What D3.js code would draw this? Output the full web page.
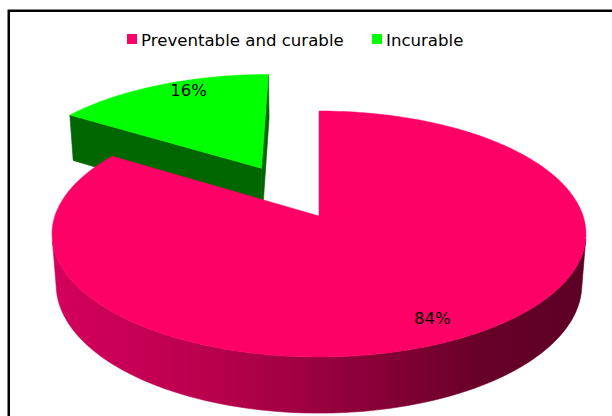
<!DOCTYPE html>
<html>
<head>
<meta charset="utf-8">
<script src="https://cdn.jsdelivr.net/npm/d3@7"></script>
<style>
  html, body { margin: 0; padding: 0; background: #fff; }
  svg { display: block; }
</style>
</head>
<body>
<div id="chart"></div>
<script>
// ---- data ----
const categories = ["Preventable and curable", "Incurable"];
const values = [84, 16];
const valueLabels = ["84%", "16%"];
const topColors = ["#ff0066", "#00ff00"];
const sideColors = ["#a0003f", "#006600"];
const explodeBy = [0, 0.48];

// ---- layout ----
const W = 612, H = 416;
const svg = d3.select("#chart").append("svg").attr("width", W).attr("height", H);
svg.append("rect").attr("width", W).attr("height", H).attr("fill", "#fff");

// perspective camera for the 3D pie (unit radius disc, thickness t)
const cam = { cx: 319, cy: 216, fx: 1611, fy: 1635, D: 6.10, s: 0.449, c: 0.893 };
const thick = 0.213;
function proj(u, v, h) {
  const depth = cam.D - h * cam.s - v * cam.c;
  return [cam.cx + cam.fx * u / depth, cam.cy + cam.fy * (v * cam.s - h * cam.c) / depth];
}

const pie = d3.pie().sort(null).startAngle(0).endAngle(2 * Math.PI);
const arcs = pie(values);

const defs = svg.append("defs");
const grad = defs.append("linearGradient").attr("id", "pinkSide")
  .attr("gradientUnits", "userSpaceOnUse").attr("x1", 54).attr("x2", 588).attr("y1", 0).attr("y2", 0);
[[0, "#d4005c"], [0.3, "#b8004c"], [0.55, "#90003a"], [0.8, "#680029"], [1, "#5c0026"]]
  .forEach(([o, col]) => grad.append("stop").attr("offset", o).attr("stop-color", col));

const line = d3.line();
const N = 240;

function sliceGeom(d, i) {
  const mid = (d.startAngle + d.endAngle) / 2;
  const e = explodeBy[i];
  const ou = e * Math.sin(mid), ov = -e * Math.cos(mid);
  const rim = (a, h) => proj(ou + Math.sin(a), ov - Math.cos(a), h);
  const ctr = (h) => proj(ou, ov, h);
  return { mid, ou, ov, rim, ctr };
}

function drawSlice(d, i) {
  const g = svg.append("g");
  const G = sliceGeom(d, i);
  const { ou, ov, rim, ctr } = G;
  const a0 = d.startAngle, a1 = d.endAngle;
  const sideFill = i === 0 ? "url(#pinkSide)" : sideColors[i];

  // radial cut faces
  const faces = [
    { a: a0, n: [-Math.cos(a0), -Math.sin(a0)] },
    { a: a1, n: [Math.cos(a1), Math.sin(a1)] }
  ];
  faces.forEach(f => {
    const dot = f.n[0] * (-ou) + f.n[1] * (cam.D * cam.c - ov);
    if (dot > 1e-6) {
      const pts = [ctr(0), rim(f.a, 0), rim(f.a, -thick), ctr(-thick)];
      g.append("path").attr("d", line(pts) + "Z").attr("fill", sideColors[i])
        .attr("stroke", sideColors[i]).attr("stroke-width", 0.6);
    }
  });

  // outer curved side: visible runs
  let run = [];
  const runs = [];
  for (let k = 0; k <= N; k++) {
    const a = a0 + (a1 - a0) * k / N;
    const dot = -ou * Math.sin(a) - 1 - cam.D * cam.c * Math.cos(a) + ov * Math.cos(a);
    if (dot > 0) run.push(a);
    else if (run.length) { runs.push(run); run = []; }
  }
  if (run.length) runs.push(run);
  runs.forEach(r => {
    const top = r.map(a => rim(a, 0));
    const bot = r.slice().reverse().map(a => rim(a, -thick));
    g.append("path").attr("d", line(top.concat(bot)) + "Z").attr("fill", sideFill)
      .attr("stroke", sideFill).attr("stroke-width", 0.6);
  });

  // top face
  const topPts = [ctr(0)];
  for (let k = 0; k <= N; k++) topPts.push(rim(a0 + (a1 - a0) * k / N, 0));
  g.append("path").attr("d", line(topPts) + "Z").attr("fill", topColors[i])
    .attr("stroke", topColors[i]).attr("stroke-width", 0.5);
}

// draw back (exploded green) first, then the front pink slice
drawSlice(arcs[1], 1);
drawSlice(arcs[0], 0);

// value labels
const labelR = [0.8, 0.70];
const labelDy = [14, -12];
arcs.forEach((d, i) => {
  const G = sliceGeom(d, i);
  const p = proj(G.ou + labelR[i] * Math.sin(G.mid), G.ov - labelR[i] * Math.cos(G.mid), 0);
  svg.append("text").attr("x", p[0]).attr("y", p[1] + labelDy[i])
    .attr("text-anchor", "middle").attr("font-family", "DejaVu Sans, Verdana, sans-serif")
    .attr("font-size", 16.5).attr("fill", "#000").text(valueLabels[i]);
});

// legend
const legendX = [127, 372];
categories.forEach((c, i) => {
  svg.append("rect").attr("x", legendX[i]).attr("y", 34).attr("width", 10).attr("height", 10)
    .attr("fill", topColors[i]);
  svg.append("text").attr("x", legendX[i] + 14).attr("y", 45.5)
    .attr("font-family", "DejaVu Sans, Verdana, sans-serif").attr("font-size", 16.6)
    .attr("fill", "#000").text(c);
});

// chart frame (extends beyond the visible window)
svg.append("rect").attr("x", 8.75).attr("y", 10.75).attr("width", 700).attr("height", 500)
  .attr("fill", "none").attr("stroke", "#000").attr("stroke-width", 2.5);
</script>
</body>
</html>
